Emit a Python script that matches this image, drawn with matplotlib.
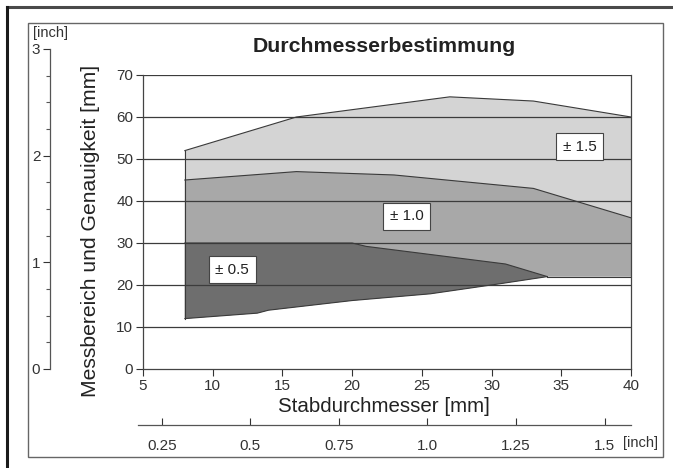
import matplotlib
matplotlib.use("Agg")
import matplotlib.pyplot as plt
from matplotlib.patches import Rectangle
from matplotlib.lines import Line2D
import numpy as np

plt.rcParams['font.family'] = ['Liberation Sans', 'DejaVu Sans']

# ---------------- data ----------------
title = "Durchmesserbestimmung"
xlabel = "Stabdurchmesser [mm]"
ylabel = "Messbereich und Genauigkeit [mm]"

# ±1.5 region (light) upper boundary
light_top_x = [8, 16, 27, 33, 40]
light_top_y = [52, 60, 64.8, 63.8, 60]
# ±1.0 region (medium) upper boundary
mid_top_x = [8, 16, 23, 33, 40]
mid_top_y = [45, 47, 46.2, 43, 36]
# common lower boundary on the right
lower_right_x = [34, 40]
lower_right_y = [22, 22]
# ±0.5 region (dark)
dark_top_x = [8, 20, 21, 31, 34]
dark_top_y = [30, 30, 29.2, 25, 22]
dark_bot_x = [8, 13.2, 14, 20, 25.6, 30.6, 34]
dark_bot_y = [12, 13.3, 14, 16.3, 17.9, 20.3, 22]

labels = ["± 1.5", "± 1.0", "± 0.5"]
label_x = [36.3, 23.9, 11.4]
label_y = [52.9, 36.4, 23.6]

x_ticks = [5, 10, 15, 20, 25, 30, 35, 40]
y_ticks = [0, 10, 20, 30, 40, 50, 60, 70]
inch_x_ticks = [0.25, 0.5, 0.75, 1.0, 1.25, 1.5]
inch_x_labels = ["0.25", "0.5", "0.75", "1.0", "1.25", "1.5"]
inch_y_ticks = [0, 1, 2, 3]
MM_PER_INCH = 25.4

# ---------------- figure ----------------
W, H = 673, 468
fig = plt.figure(figsize=(W / 100, H / 100), dpi=100)
fig.patch.set_facecolor("white")

def fx(px):
    return px / W

def fy(py):
    return 1 - py / H

# outer page borders and frame
fig.add_artist(Line2D([fx(7), fx(673)], [fy(7), fy(7)], color="#4a4a4a", lw=2.2))
fig.add_artist(Line2D([fx(7), fx(7)], [fy(7), fy(468)], color="#1a1a1a", lw=2.2))
fig.add_artist(Rectangle((fx(28), fy(457)), fx(663) - fx(28), fy(23) - fy(457),
                         fill=False, edgecolor="#666666", lw=1.0))

# main axes
x0, x1, y0, y1 = 143, 631, 369, 75
ax = fig.add_axes([fx(x0), fy(y0), fx(x1) - fx(x0), fy(y1) - fy(y0)])
ax.set_xlim(5, 40)
ax.set_ylim(0, 70)

light_col = "#d4d4d4"
mid_col = "#a8a8a8"
dark_col = "#6e6e6e"
edge = "#3a3a3a"

lower_x = dark_bot_x + lower_right_x[1:]
lower_y = dark_bot_y + lower_right_y[1:]

# light polygon
px = light_top_x + lower_x[::-1]
py = light_top_y + lower_y[::-1]
ax.fill(px, py, facecolor=light_col, edgecolor="none", zorder=1)
ax.plot(light_top_x, light_top_y, color=edge, lw=0.8, zorder=3)
# medium polygon
px = mid_top_x + lower_x[::-1]
py = mid_top_y + lower_y[::-1]
ax.fill(px, py, facecolor=mid_col, edgecolor="none", zorder=1.5)
ax.plot(mid_top_x, mid_top_y, color=edge, lw=0.8, zorder=3)
# dark polygon
px = dark_top_x + dark_bot_x[::-1]
py = dark_top_y + dark_bot_y[::-1]
ax.fill(px, py, facecolor=dark_col, edgecolor="none", zorder=2)
ax.plot(dark_top_x, dark_top_y, color=edge, lw=0.8, zorder=3)
ax.plot(dark_bot_x, dark_bot_y, color=edge, lw=0.8, zorder=3)
# left edge of regions and right lower edge
ax.plot([light_top_x[0], dark_bot_x[0]], [light_top_y[0], dark_bot_y[0]], color=edge, lw=0.8, zorder=3)
ax.plot(lower_right_x, lower_right_y, color=edge, lw=0.8, zorder=3)

for yv in y_ticks[1:]:
    ax.axhline(yv, color="#3c3c3c", lw=0.9, zorder=2.5)

for t, xv, yv in zip(labels, label_x, label_y):
    ax.text(xv, yv, t, ha="center", va="center", fontsize=11, color="#222222", zorder=5,
            bbox=dict(boxstyle="square,pad=0.42", facecolor="white", edgecolor="#444444", lw=0.8))

ax.set_xticks(x_ticks)
ax.set_yticks(y_ticks)
ax.tick_params(labelsize=11, colors="#333333", length=5, width=0.8, pad=2)
for s in ["left", "bottom", "right"]:
    ax.spines[s].set_color("#444444")
    ax.spines[s].set_linewidth(0.9)
ax.spines["top"].set_visible(False)
ax.set_facecolor("white")

# left inch axis (same scale as mm axis: 0..3 inch)
axl = fig.add_axes([fx(50), fy(369), 0.0005, fy(49) - fy(369)])
axl.set_ylim(0, 3)
axl.set_xticks([])
axl.set_yticks(inch_y_ticks)
axl.set_yticks(np.arange(0, 3.01, 0.25), minor=True)
axl.tick_params(axis="y", which="major", labelsize=11, colors="#333333", length=5, width=0.8, pad=2)
axl.tick_params(axis="y", which="minor", length=3, width=0.8, colors="#555555")
for s in ["top", "bottom", "right"]:
    axl.spines[s].set_visible(False)
axl.spines["left"].set_color("#555555")
axl.spines["left"].set_linewidth(0.9)
axl.patch.set_visible(False)
fig.text(fx(50), fy(33), "[inch]", ha="center", va="center", fontsize=10.5, color="#333333")

# bottom inch axis, aligned with mm axis
bx0 = 138
pix_per_mm = (x1 - x0) / (40 - 5)
mm_left = 5 - (x0 - bx0) / pix_per_mm
axb = fig.add_axes([fx(bx0), fy(425), fx(x1) - fx(bx0), 0.0005])
axb.set_xlim(mm_left / MM_PER_INCH, 40 / MM_PER_INCH)
axb.set_yticks([])
axb.set_xticks(inch_x_ticks)
axb.set_xticklabels(inch_x_labels)
axb.tick_params(axis="x", direction="in", labelsize=11, colors="#333333", length=5, width=0.8, pad=10)
for s in ["top", "left", "right"]:
    axb.spines[s].set_visible(False)
axb.spines["bottom"].set_color("#555555")
axb.spines["bottom"].set_linewidth(0.9)
axb.patch.set_visible(False)
fig.text(fx(640), fy(443), "[inch]", ha="center", va="center", fontsize=10.5, color="#333333")

# titles
fig.text(fx(384), fy(47), title, ha="center", va="center", fontsize=15.3, fontweight="bold", color="#222222")
fig.text(fx(384), fy(407), xlabel, ha="center", va="center", fontsize=14.8, color="#222222")
fig.text(fx(91), fy(231), ylabel, ha="center", va="center", rotation=90, fontsize=15.2, color="#222222")

fig.savefig("out.png", dpi=100, facecolor="white")
